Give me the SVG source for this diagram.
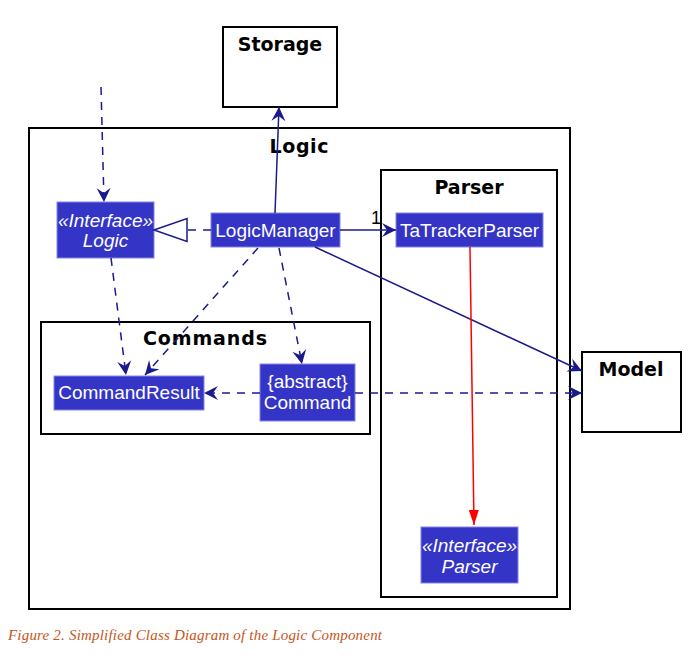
<svg xmlns="http://www.w3.org/2000/svg" width="699" height="659" viewBox="0 0 699 659">
<style>
.pkg{fill:none;stroke:#000;stroke-width:2}
.box{fill:#fff;stroke:#000;stroke-width:2}
.ptitle{font-family:"DejaVu Sans",Verdana,sans-serif;font-weight:bold;font-size:19px;fill:#000;text-anchor:middle}
.cls{fill:#3434C6;stroke:#8585E6;stroke-width:1}
.ct{font-family:"Liberation Sans",Arial,sans-serif;font-size:19px;fill:#fff;text-anchor:middle}
.it{font-style:italic}
.solid{fill:none;stroke:#1A1A8A;stroke-width:1.5}
.dash{fill:none;stroke:#1A1A8A;stroke-width:1.5;stroke-dasharray:8,7}
.red{fill:none;stroke:#FF0000;stroke-width:1.5}
</style>
<defs>
<marker id="arr" viewBox="-15 -8 16 16" refX="0" refY="0" markerWidth="16" markerHeight="16" markerUnits="userSpaceOnUse" orient="auto">
<path d="M0,0 L-14,-7 L-9,0 L-14,7 Z" fill="#1A1A8A"/>
</marker>
<marker id="redarr" viewBox="-15 -8 16 16" refX="0" refY="0" markerWidth="16" markerHeight="16" markerUnits="userSpaceOnUse" orient="auto">
<path d="M0,0 L-15,-5 L-15,5 Z" fill="#FF0000"/>
</marker>
</defs>

<g id="storage">
<rect class="box" x="223" y="27" width="114" height="80"/>
<text class="ptitle" x="280" y="51">Storage</text>
</g>
<g id="logic-pkg">
<rect class="pkg" x="29" y="128" width="541" height="481"/>
<text class="ptitle" x="299" y="153" textLength="59">Logic</text>
</g>
<g id="parser-pkg">
<rect class="pkg" x="381" y="170" width="176" height="427"/>
<text class="ptitle" x="469" y="194">Parser</text>
</g>
<g id="commands-pkg">
<rect class="pkg" x="41" y="322" width="329" height="112"/>
<text class="ptitle" x="205" y="345" textLength="124">Commands</text>
</g>
<g id="model">
<rect class="box" x="582" y="352" width="99" height="80"/>
<text class="ptitle" x="631" y="376">Model</text>
</g>

<g id="logic-interface">
<rect class="cls" x="57" y="202" width="97" height="56"/>
<text class="ct it" x="105.5" y="227">«Interface»</text>
<text class="ct it" x="105.5" y="247">Logic</text>
</g>
<g id="logicmanager">
<rect class="cls" x="211" y="213" width="129" height="34"/>
<text class="ct" x="275.5" y="237">LogicManager</text>
</g>
<g id="tatrackerparser">
<rect class="cls" x="396" y="213" width="147" height="34"/>
<text class="ct" x="469.5" y="237" textLength="139">TaTrackerParser</text>
</g>
<g id="commandresult">
<rect class="cls" x="54" y="376" width="150" height="34"/>
<text class="ct" x="129" y="399">CommandResult</text>
</g>
<g id="command">
<rect class="cls" x="260" y="364" width="95" height="57"/>
<text class="ct" x="307.5" y="388">{abstract}</text>
<text class="ct" x="307.5" y="409">Command</text>
</g>
<g id="parser-interface">
<rect class="cls" x="421" y="527" width="97" height="56"/>
<text class="ct it" x="469.5" y="552">«Interface»</text>
<text class="ct it" x="469.5" y="573">Parser</text>
</g>

<g id="connectors">
<line class="dash" x1="101" y1="87" x2="104" y2="202" marker-end="url(#arr)"/>
<line class="dash" x1="211" y1="230" x2="187" y2="230"/>
<polygon points="154,230 187,218.5 187,241.5" fill="none" stroke="#1A1A8A" stroke-width="1.5"/>
<line class="solid" x1="275" y1="213" x2="279" y2="107" marker-end="url(#arr)"/>
<line class="solid" x1="340" y1="230" x2="396" y2="230" marker-end="url(#arr)"/>
<text x="376" y="224" font-family="Liberation Sans,Arial,sans-serif" font-size="18" fill="#000" text-anchor="middle">1</text>
<line class="solid" x1="315" y1="247" x2="582" y2="371" marker-end="url(#arr)"/>
<line class="dash" x1="258" y1="248" x2="145" y2="375" marker-end="url(#arr)"/>
<line class="dash" x1="279" y1="248" x2="302" y2="364" marker-end="url(#arr)"/>
<line class="dash" x1="111" y1="258" x2="126" y2="375" marker-end="url(#arr)"/>
<line class="dash" x1="260" y1="393" x2="204" y2="393" marker-end="url(#arr)"/>
<line class="dash" x1="355" y1="393" x2="582" y2="393" marker-end="url(#arr)"/>
<line class="red" x1="470" y1="247" x2="474" y2="525" marker-end="url(#redarr)"/>
</g>

<text x="8" y="640" font-family="Liberation Serif,Times New Roman,serif" font-style="italic" font-size="15" fill="#C4561A" textLength="374">Figure 2. Simplified Class Diagram of the Logic Component</text>
</svg>
